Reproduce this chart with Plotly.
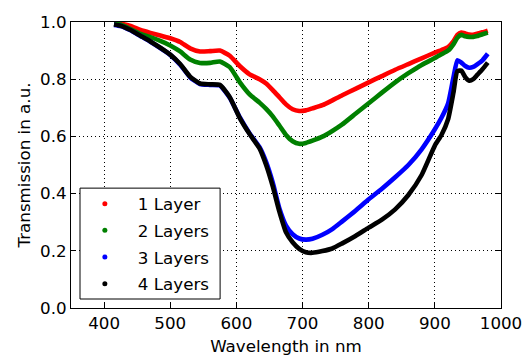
import plotly.graph_objects as go

wavelength = [415, 425, 440, 455, 470, 485, 500, 515, 530, 545, 560, 575, 590, 605, 620,
              635, 645, 655, 665, 675, 685, 695, 705, 715, 730, 745, 760, 780, 800, 820,
              840, 860, 880, 900, 910, 920, 928, 934, 940, 946, 952, 958, 964, 972, 980]

layer1 = [0.995, 0.994, 0.986, 0.972, 0.962, 0.953, 0.943, 0.930, 0.908, 0.897, 0.898, 0.900,
          0.882, 0.846, 0.817, 0.800, 0.785, 0.762, 0.737, 0.712, 0.695, 0.689, 0.691, 0.698,
          0.709, 0.726, 0.744, 0.766, 0.789, 0.811, 0.833, 0.853, 0.873, 0.893, 0.902, 0.912,
          0.932, 0.955, 0.963, 0.960, 0.956, 0.955, 0.959, 0.964, 0.970]

layer2 = [0.994, 0.991, 0.975, 0.958, 0.947, 0.934, 0.918, 0.897, 0.869, 0.857, 0.857, 0.862,
          0.842, 0.790, 0.747, 0.718, 0.696, 0.670, 0.638, 0.605, 0.583, 0.574, 0.577, 0.585,
          0.599, 0.619, 0.642, 0.679, 0.716, 0.753, 0.789, 0.821, 0.850, 0.874, 0.887, 0.900,
          0.922, 0.945, 0.955, 0.950, 0.948, 0.948, 0.951, 0.957, 0.963]

layer3 = [0.990, 0.986, 0.971, 0.951, 0.931, 0.909, 0.885, 0.851, 0.807, 0.783, 0.780, 0.778,
          0.735, 0.667, 0.610, 0.562, 0.510, 0.438, 0.348, 0.288, 0.258, 0.243, 0.239, 0.242,
          0.256, 0.276, 0.303, 0.340, 0.380, 0.417, 0.457, 0.500, 0.555, 0.625, 0.665, 0.715,
          0.805, 0.866, 0.858, 0.846, 0.840, 0.843, 0.852, 0.866, 0.889]

layer4 = [0.991, 0.987, 0.972, 0.952, 0.932, 0.910, 0.886, 0.853, 0.809, 0.785, 0.782, 0.780,
          0.737, 0.665, 0.608, 0.558, 0.500, 0.425, 0.337, 0.265, 0.230, 0.207, 0.195, 0.193,
          0.199, 0.208, 0.226, 0.252, 0.281, 0.309, 0.345, 0.395, 0.465, 0.568, 0.605, 0.660,
          0.752, 0.828, 0.830, 0.807, 0.795, 0.800, 0.815, 0.835, 0.858]

names = ["1 Layer", "2 Layers", "3 Layers", "4 Layers"]
colors = ["#ff0000", "#008000", "#0000ff", "#000000"]
series = [layer1, layer2, layer3, layer4]

x_ticks = [400, 500, 600, 700, 800, 900, 1000]
y_ticks = [0.0, 0.2, 0.4, 0.6, 0.8, 1.0]

FONT = "DejaVu Sans"
FS = 16.7

fig = go.Figure()
for name, col, vals in zip(names, colors, series):
    fig.add_trace(go.Scatter(x=wavelength, y=vals, mode="lines", name=name,
                             line=dict(color=col, width=4.6, shape="spline", smoothing=0.5),
                             showlegend=False, hoverinfo="skip"))
for i, (name, col) in enumerate(zip(names, colors)):
    fig.add_trace(go.Scatter(x=[None], y=[None], mode="markers", name=name,
                             marker=dict(color=col, size=5), legendgroup=str(i),
                             showlegend=True))

axis_common = dict(
    showline=True, linecolor="black", linewidth=1, mirror="ticks",
    ticks="inside", ticklen=5, tickcolor="black", tickwidth=1,
    showgrid=True, gridcolor="black", gridwidth=1, griddash="1px,3px",
    zeroline=False, tickfont=dict(family=FONT, size=FS, color="black"),
)

fig.update_xaxes(range=[350, 1000], tickvals=x_ticks, ticktext=[str(v) for v in x_ticks],
                 title=dict(text="Wavelength in nm", font=dict(family=FONT, size=FS, color="black"),
                            standoff=8),
                 **axis_common)
fig.update_yaxes(range=[0, 1.0], tickvals=y_ticks, ticktext=["%.1f" % v for v in y_ticks],
                 title=dict(text="Transmission in a.u.", font=dict(family=FONT, size=FS, color="black"),
                            standoff=5),
                 **axis_common)

fig.add_shape(type="rect", xref="paper", yref="paper",
              x0=(80 - 71) / 429.7, x1=(220 - 71) / 429.7,
              y0=(308.3 - 299.3) / 286.3, y1=(308.3 - 188.3) / 286.3,
              line=dict(color="black", width=1), fillcolor="white", layer="above")

fig.update_layout(
    width=530, height=356,
    margin=dict(l=71, r=29, t=22, b=48, autoexpand=False),
    paper_bgcolor="white", plot_bgcolor="white",
    font=dict(family=FONT, size=FS, color="black"),
    legend=dict(x=0.002, xanchor="left", y=0.4255, yanchor="top",
                bgcolor="rgba(0,0,0,0)", borderwidth=0,
                traceorder="grouped", tracegroupgap=2, itemwidth=56,
                font=dict(family=FONT, size=FS, color="black")),
)

fig.write_html("out.html", config={"displayModeBar": False},
               post_script="document.body.style.margin='0px';")
